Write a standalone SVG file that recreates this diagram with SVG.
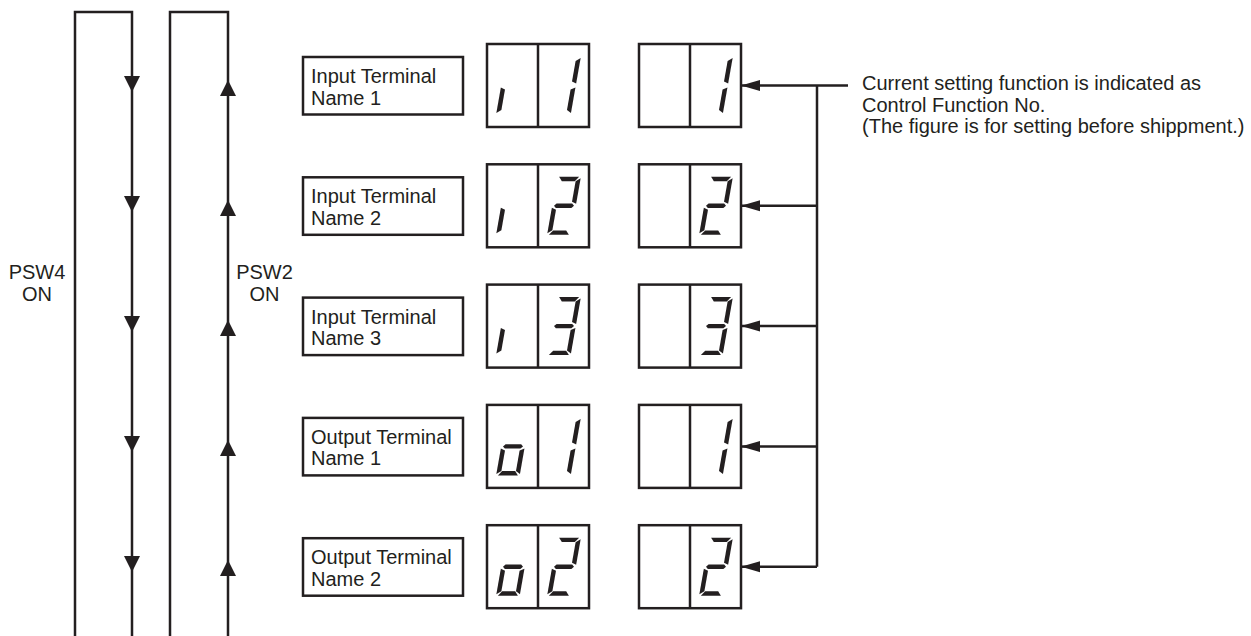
<svg xmlns="http://www.w3.org/2000/svg" xmlns:xlink="http://www.w3.org/1999/xlink" width="1251" height="636" viewBox="0 0 1251 636">
<style>
.ln{fill:none;stroke:#231f20;stroke-width:2.5}
.bx{fill:#fff;stroke:#231f20;stroke-width:2.5}
.ah{fill:#231f20;stroke:none}
.tx{font-family:"Liberation Sans",Arial,sans-serif;font-size:20px;fill:#231f20}
.seg{fill:#231f20}
</style>
<defs>
<polygon id="sa" class="seg" points="-10,-29 10,-29 6.5,-24.6 -6.5,-24.6"/>
<polygon id="sb" class="seg" points="11.8,-27.5 11.8,-2 7.3,-4 7.3,-24.5"/>
<polygon id="sc" class="seg" points="11.8,2 11.8,27.5 7.3,24.5 7.3,4"/>
<polygon id="sd" class="seg" points="-10,29 10,29 6.5,24.6 -6.5,24.6"/>
<polygon id="se" class="seg" points="-11.8,2 -11.8,27.5 -7.3,24.5 -7.3,4"/>
<polygon id="sg" class="seg" points="-10,0 -7.8,-2.2 7.8,-2.2 10,0 7.8,2.2 -7.8,2.2"/>
<g id="dI" transform="skewX(-10)"><use xlink:href="#se"/></g>
<g id="dO" transform="skewX(-10)"><use xlink:href="#sc"/><use xlink:href="#sd"/><use xlink:href="#se"/><use xlink:href="#sg"/></g>
<g id="d1" transform="skewX(-10)"><use xlink:href="#sb"/><use xlink:href="#sc"/></g>
<g id="d2" transform="skewX(-10)"><use xlink:href="#sa"/><use xlink:href="#sb"/><use xlink:href="#sg"/><use xlink:href="#se"/><use xlink:href="#sd"/></g>
<g id="d3" transform="skewX(-10)"><use xlink:href="#sa"/><use xlink:href="#sb"/><use xlink:href="#sg"/><use xlink:href="#sc"/><use xlink:href="#sd"/></g>
<polygon id="adn" class="ah" points="-8,0 8,0 0,16"/>
<polygon id="aup" class="ah" points="-8,16 8,16 0,0"/>
<polygon id="alf" class="ah" points="0,0 19,-5.5 19,5.5"/>
</defs>

<g id="connectors">
<path class="ln" d="M75,636 V12 H132 V636"/>
<path class="ln" d="M170,636 V12 H228 V636"/>
<use xlink:href="#adn" x="132" y="76"/>
<use xlink:href="#adn" x="132" y="196"/>
<use xlink:href="#adn" x="132" y="316"/>
<use xlink:href="#adn" x="132" y="436"/>
<use xlink:href="#adn" x="132" y="556"/>
<use xlink:href="#aup" x="228" y="80"/>
<use xlink:href="#aup" x="228" y="200"/>
<use xlink:href="#aup" x="228" y="320"/>
<use xlink:href="#aup" x="228" y="440"/>
<use xlink:href="#aup" x="228" y="560"/>
<path class="ln" d="M848,85.5 H817 V566.7 M741,85.5 H817 M741,205.8 H817 M741,326.1 H817 M741,446.4 H817 M741,566.7 H817"/>
<use xlink:href="#alf" x="741" y="85.5"/>
<use xlink:href="#alf" x="741" y="205.8"/>
<use xlink:href="#alf" x="741" y="326.1"/>
<use xlink:href="#alf" x="741" y="446.4"/>
<use xlink:href="#alf" x="741" y="566.7"/>
</g>

<g id="psw4"><text class="tx" text-anchor="middle" x="37" y="279">PSW4</text><text class="tx" text-anchor="middle" x="37" y="301">ON</text></g>
<g id="psw2"><text class="tx" text-anchor="middle" x="264.5" y="279">PSW2</text><text class="tx" text-anchor="middle" x="264.5" y="301">ON</text></g>

<g id="label-1"><rect class="bx" x="303" y="57" width="160" height="57.5"/><text class="tx" x="311" y="83">Input Terminal</text><text class="tx" x="311" y="104.5">Name 1</text></g>
<g id="label-2"><rect class="bx" x="303" y="177.3" width="160" height="57.5"/><text class="tx" x="311" y="203.3">Input Terminal</text><text class="tx" x="311" y="224.8">Name 2</text></g>
<g id="label-3"><rect class="bx" x="303" y="297.6" width="160" height="57.5"/><text class="tx" x="311" y="323.6">Input Terminal</text><text class="tx" x="311" y="345.1">Name 3</text></g>
<g id="label-4"><rect class="bx" x="303" y="417.9" width="160" height="57.5"/><text class="tx" x="311" y="443.9">Output Terminal</text><text class="tx" x="311" y="465.4">Name 1</text></g>
<g id="label-5"><rect class="bx" x="303" y="538.2" width="160" height="57.5"/><text class="tx" x="311" y="564.2">Output Terminal</text><text class="tx" x="311" y="585.7">Name 2</text></g>

<g id="display-l-1"><rect class="bx" x="487" y="44" width="102" height="83"/><line class="ln" x1="538" y1="44" x2="538" y2="127"/><use xlink:href="#dI" transform="translate(513,85.5)"/><use xlink:href="#d1" transform="translate(564,85.5)"/></g>
<g id="display-l-2"><rect class="bx" x="487" y="164.3" width="102" height="83"/><line class="ln" x1="538" y1="164.3" x2="538" y2="247.3"/><use xlink:href="#dI" transform="translate(513,205.8)"/><use xlink:href="#d2" transform="translate(564,205.8)"/></g>
<g id="display-l-3"><rect class="bx" x="487" y="284.6" width="102" height="83"/><line class="ln" x1="538" y1="284.6" x2="538" y2="367.6"/><use xlink:href="#dI" transform="translate(513,326.1)"/><use xlink:href="#d3" transform="translate(564,326.1)"/></g>
<g id="display-l-4"><rect class="bx" x="487" y="404.9" width="102" height="83"/><line class="ln" x1="538" y1="404.9" x2="538" y2="487.9"/><use xlink:href="#dO" transform="translate(513,446.4)"/><use xlink:href="#d1" transform="translate(564,446.4)"/></g>
<g id="display-l-5"><rect class="bx" x="487" y="525.2" width="102" height="83"/><line class="ln" x1="538" y1="525.2" x2="538" y2="608.2"/><use xlink:href="#dO" transform="translate(513,566.7)"/><use xlink:href="#d2" transform="translate(564,566.7)"/></g>

<g id="display-r-1"><rect class="bx" x="639" y="44" width="102" height="83"/><line class="ln" x1="690" y1="44" x2="690" y2="127"/><use xlink:href="#d1" transform="translate(716,85.5)"/></g>
<g id="display-r-2"><rect class="bx" x="639" y="164.3" width="102" height="83"/><line class="ln" x1="690" y1="164.3" x2="690" y2="247.3"/><use xlink:href="#d2" transform="translate(716,205.8)"/></g>
<g id="display-r-3"><rect class="bx" x="639" y="284.6" width="102" height="83"/><line class="ln" x1="690" y1="284.6" x2="690" y2="367.6"/><use xlink:href="#d3" transform="translate(716,326.1)"/></g>
<g id="display-r-4"><rect class="bx" x="639" y="404.9" width="102" height="83"/><line class="ln" x1="690" y1="404.9" x2="690" y2="487.9"/><use xlink:href="#d1" transform="translate(716,446.4)"/></g>
<g id="display-r-5"><rect class="bx" x="639" y="525.2" width="102" height="83"/><line class="ln" x1="690" y1="525.2" x2="690" y2="608.2"/><use xlink:href="#d2" transform="translate(716,566.7)"/></g>

<g id="note"><text class="tx" x="862" y="90">Current setting function is indicated as</text><text class="tx" x="862" y="111.5">Control Function No.</text><text class="tx" x="862" y="133">(The figure is for setting before shippment.)</text></g>
</svg>
